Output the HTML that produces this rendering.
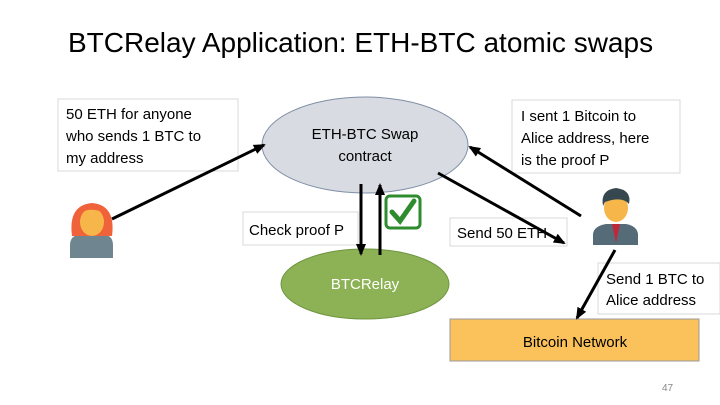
<!DOCTYPE html>
<html><head><meta charset="utf-8"><style>
html,body{margin:0;padding:0;background:#fff}
svg{display:block;font-family:"Liberation Sans",sans-serif}
</style></head><body>
<svg width="720" height="405" viewBox="0 0 720 405">
<defs><marker id="a" markerWidth="8" markerHeight="8" refX="6" refY="4" orient="auto" markerUnits="userSpaceOnUse"><path d="M0,0 L8,4 L0,8 z" fill="#000"/></marker>
<marker id="b" markerWidth="12" markerHeight="10" refX="10" refY="5" orient="auto" markerUnits="userSpaceOnUse"><path d="M0,0 L12,5 L0,10 z" fill="#000"/></marker></defs>
<text x="68" y="52" font-size="28" fill="#000">BTCRelay Application: ETH-BTC atomic swaps</text>
<rect x="58" y="99" width="180" height="72" fill="#fff" stroke="#d8d8d8"/>
<text font-size="15" fill="#000"><tspan x="66" y="119">50 ETH for anyone</tspan><tspan x="66" y="141">who sends 1 BTC to</tspan><tspan x="66" y="163">my address</tspan></text>
<ellipse cx="365" cy="145" rx="103" ry="48" fill="#d8dbe2" stroke="#7f8fa6"/>
<text font-size="15" text-anchor="middle"><tspan x="365" y="139">ETH-BTC Swap</tspan><tspan x="365" y="161">contract</tspan></text>
<ellipse cx="365" cy="284" rx="84" ry="35" fill="#8db255" stroke="#6f9640"/>
<text x="365" y="289" font-size="15" fill="#fff" text-anchor="middle">BTCRelay</text>
<rect x="243" y="212" width="115" height="33" fill="#fff" stroke="#d8d8d8"/>
<text x="249" y="235" font-size="15">Check proof P</text>
<rect x="386" y="196" width="34" height="32" rx="4" fill="#fff" stroke="#2e8b2e" stroke-width="3"/>
<path d="M392,212 L400,221 L414,201" stroke="#2e8b2e" stroke-width="5" fill="none" stroke-linecap="round"/>
<line x1="361" y1="184" x2="361" y2="254" stroke="#000" stroke-width="3" marker-end="url(#b)"/>
<line x1="380" y1="255" x2="380" y2="185" stroke="#000" stroke-width="3" marker-end="url(#b)"/>
<rect x="512" y="100" width="168" height="73" fill="#fff" stroke="#d8d8d8"/>
<text font-size="15"><tspan x="521" y="121">I sent 1 Bitcoin to</tspan><tspan x="521" y="143">Alice address, here</tspan><tspan x="521" y="165">is the proof P</tspan></text>
<rect x="450" y="218" width="117" height="28" fill="#fff" stroke="#d8d8d8"/>
<text x="457" y="238" font-size="15">Send 50 ETH</text>
<rect x="598" y="263" width="122" height="51" fill="#fff" stroke="#d8d8d8"/>
<text font-size="15"><tspan x="606" y="284">Send 1 BTC to</tspan><tspan x="606" y="305">Alice address</tspan></text>
<rect x="450" y="319" width="249" height="42" fill="#fbc25b" stroke="#999"/>
<text x="575" y="347" font-size="15" text-anchor="middle">Bitcoin Network</text>
<line x1="112" y1="219" x2="264" y2="145" stroke="#000" stroke-width="3" marker-end="url(#b)"/>
<line x1="581" y1="216" x2="470" y2="147" stroke="#000" stroke-width="3" marker-end="url(#b)"/>
<line x1="438" y1="173" x2="564" y2="243" stroke="#000" stroke-width="3" marker-end="url(#b)"/>
<line x1="615" y1="250" x2="577" y2="318" stroke="#000" stroke-width="3" marker-end="url(#b)"/>
<!-- Alice -->
<path d="M70,258 L70,245 Q70,235 82,234 L102,234 Q113,235 113,245 L113,258 z" fill="#6f8590"/>
<path d="M72,236 Q68,205 92,203 Q116,205 112,236 z" fill="#f0623a"/>
<ellipse cx="92" cy="222" rx="12" ry="14" fill="#f7b64a"/>
<path d="M80,216 Q84,206 104,212 L104,208 Q92,200 80,210 z" fill="#f0623a"/>
<!-- man -->
<path d="M593,245 L593,234 Q594,226 606,224 L626,224 Q637,226 638,234 L638,245 z" fill="#556b78"/>
<path d="M612,224 L616,243 L620,224 z" fill="#c0283a"/>
<ellipse cx="616" cy="208" rx="12" ry="14" fill="#f7b64a"/>
<path d="M603,206 Q600,190 616,188 Q632,190 629,204 Q622,196 605,202 z" fill="#37474f"/>
<text x="662" y="391" font-size="10" fill="#888">47</text>
</svg>
</body></html>
